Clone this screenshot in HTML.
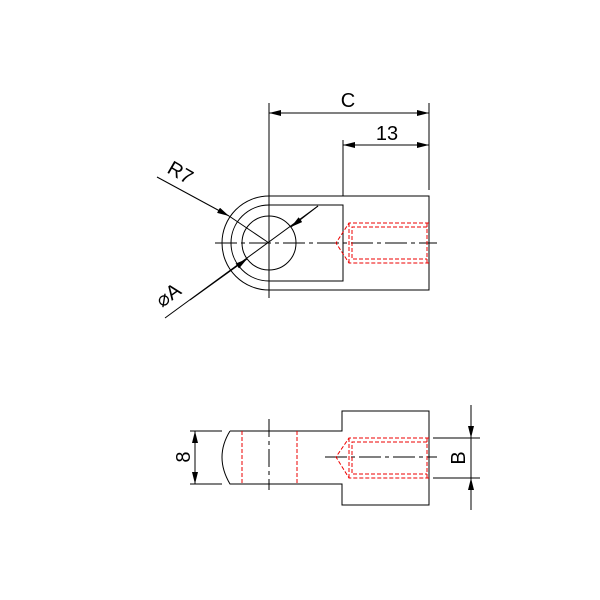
<!DOCTYPE html>
<html><head><style>body{margin:0;background:#fff}svg{display:block}</style></head><body>
<svg width="600" height="600" viewBox="0 0 600 600" xmlns="http://www.w3.org/2000/svg" font-family="Liberation Sans, sans-serif">
<defs>
<marker id="a" viewBox="0 0 12 6" refX="12" refY="3" markerWidth="12" markerHeight="6" orient="auto-start-reverse" markerUnits="userSpaceOnUse"><path d="M0,0 L12,3 L0,6 z" fill="#000"/></marker>
</defs>
<g stroke="#000" stroke-width="1" fill="none">
<path d="M269,196 A47,47 0 0 0 269,290"/>
<path d="M269,205 A38,38 0 0 0 269,281"/>
<circle cx="269" cy="243" r="27"/>
<path d="M269,196 H429 V290 H269"/>
<path d="M269,205 H343 V281 H269"/>
<line x1="269" y1="103" x2="269" y2="298"/>
<line x1="429" y1="103" x2="429" y2="190"/>
<line x1="343" y1="140" x2="343" y2="196"/>
<line x1="269" y1="113" x2="429" y2="113" marker-start="url(#a)" marker-end="url(#a)"/>
<line x1="343" y1="145" x2="429" y2="145" marker-start="url(#a)" marker-end="url(#a)"/>
<line x1="215" y1="243" x2="437" y2="243" stroke-dasharray="22,4,4,4"/>
<line x1="157" y1="177" x2="229" y2="216" marker-end="url(#a)"/>
<line x1="229" y1="216" x2="269" y2="243"/>
<line x1="165" y1="318" x2="318" y2="206"/>
<line x1="190" y1="300" x2="247" y2="259" marker-end="url(#a)"/>
<line x1="318" y1="206" x2="291" y2="227" marker-end="url(#a)"/>
<path d="M230,431 H342 V411 H429 V505 H342 V484 H230 Q214,457 230,431"/>
<line x1="269" y1="419" x2="269" y2="490" stroke-dasharray="18,4,4,4"/>
<line x1="325" y1="457" x2="437" y2="457" stroke-dasharray="22,4,4,4"/>
<line x1="190" y1="431" x2="222" y2="431"/>
<line x1="190" y1="484" x2="222" y2="484"/>
<line x1="195" y1="457" x2="195" y2="431" marker-end="url(#a)"/>
<line x1="195" y1="457" x2="195" y2="484" marker-end="url(#a)"/>
<line x1="433" y1="438" x2="480" y2="438"/>
<line x1="433" y1="478" x2="480" y2="478"/>
<line x1="471" y1="405" x2="471" y2="438" marker-end="url(#a)"/>
<line x1="471" y1="510" x2="471" y2="478" marker-end="url(#a)"/>
<line x1="471" y1="438" x2="471" y2="478"/>
</g>
<g stroke="#e00" stroke-width="1" fill="none" stroke-dasharray="4,2">
<path d="M429,223 H349 L336,243 L349,263 H429"/>
<path d="M427,227 H352 V259 H427 M349,223 V263 M427,223 V263"/>
<path d="M429,438 H349 L336,457 L349,478 H429"/>
<path d="M427,442 H352 V474 H427 M349,438 V478 M427,438 V478"/>
<line x1="242" y1="431" x2="242" y2="484"/>
<line x1="297" y1="431" x2="297" y2="484"/>
</g>
<g fill="#000" font-size="20">
<text x="348" y="107" text-anchor="middle">C</text>
<text x="387" y="140" text-anchor="middle">13</text>
<text transform="translate(166,172) rotate(30)">R7</text>
<text transform="translate(162,308) rotate(-36)">⌀A</text>
<text transform="translate(190,457) rotate(-90)" text-anchor="middle">8</text>
<text transform="translate(465,458) rotate(-90)" text-anchor="middle">B</text>
</g>
</svg>
</body></html>
